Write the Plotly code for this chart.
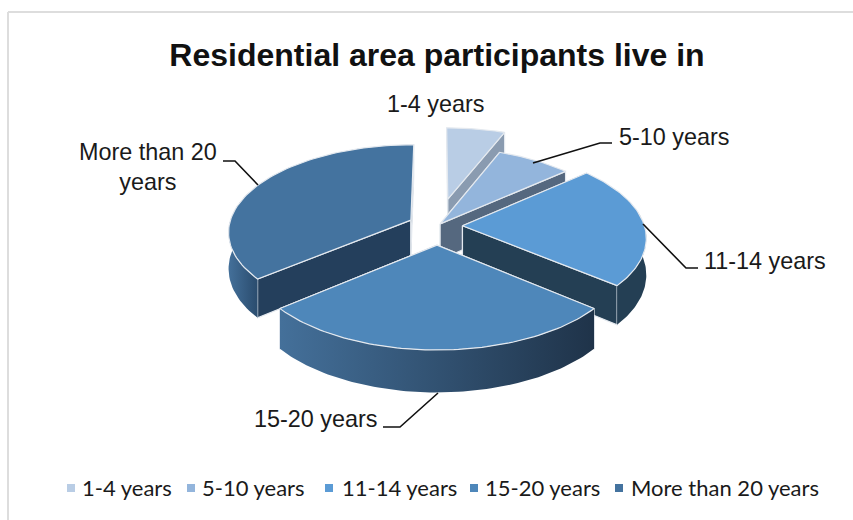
import numpy as np
import plotly.graph_objects as go

categories = ["1-4 years", "5-10 years", "11-14 years", "15-20 years", "More than 20 years"]
values = [6, 7.5, 22.5, 28, 36]
pulls = [0.33, 0.03, 0.14, 0.215, 0.16]
top_colors = ["#B9CDE5", "#93B5DC", "#5B9BD5", "#4E87BA", "#44739F"]
side_colors = ["#8A9BB0", "#55687F", "#243F54", "#243F5C", "#243F5C"]
outer_grad = [("#8A9BB0", "#8A9BB0"), ("#55687F", "#55687F"), ("#243F54", "#243F54"),
              ("#44709A", "#1F3349"), ("#44709A", "#2A4C6E")]
draw_order = [0, 1, 2, 4, 3]
title_text = "Residential area participants live in"

CX, CY, R, SIN_T, DIST, H = 437, 226, 182, 0.475, 7.0, 36
COS_T = np.sqrt(1 - SIN_T ** 2)


def project(X, Y, z=0.0):
    X, Y = np.asarray(X, float), np.asarray(Y, float)
    s = DIST / (DIST + Y * COS_T)
    return CX + R * X * s, CY - R * SIN_T * Y * s + z * H * s


angles = np.cumsum([0] + values) / sum(values) * 2 * np.pi
fig = go.Figure()


def poly(xs, ys, color, line=None, grad=None):
    kw = dict(fillcolor=color) if grad is None else dict(
        fillgradient=dict(type="horizontal", colorscale=[[0, grad[0]], [1, grad[1]]]))
    fig.add_trace(go.Scatter(
        x=np.r_[xs, xs[0]], y=np.r_[ys, ys[0]], mode="lines", fill="toself",
        line=dict(color=line or "rgba(0,0,0,0)", width=1.2), hoverinfo="skip",
        showlegend=False, **kw))


for i in draw_order:
    a0, a1 = angles[i], angles[i + 1]
    mid = (a0 + a1) / 2
    ox, oy = pulls[i] * np.sin(mid), pulls[i] * np.cos(mid)
    t = np.linspace(a0, a1, 80)
    arc_x, arc_y = ox + np.sin(t), oy + np.cos(t)
    for ang in (a0, a1):
        ex = [ox, ox + np.sin(ang)]
        ey = [oy, oy + np.cos(ang)]
        tx, ty = project(ex, ey, 0)
        bx, by = project(ex, ey, 1)
        poly(np.r_[tx, bx[::-1]], np.r_[ty, by[::-1]], side_colors[i], line="#E4E9EF")
    tx, ty = project(arc_x, arc_y, 0)
    bx, by = project(arc_x, arc_y, 1)
    front = arc_y < oy + 0.25
    if front.sum() > 1:
        poly(np.r_[tx[front], bx[front][::-1]], np.r_[ty[front], by[front][::-1]],
             side_colors[i], grad=outer_grad[i])
    fx, fy = project(np.r_[ox, arc_x], np.r_[oy, arc_y], 0)
    poly(fx, fy, top_colors[i], line="#E4E9EF")

# legend row
legend_marker_x = [71, 191, 329, 474, 619]
legend_text_x = [80, 200, 340, 483, 629]
LEGEND_Y = 488
fig.add_trace(go.Scatter(x=legend_marker_x, y=[LEGEND_Y] * 5, mode="markers", showlegend=False,
                         hoverinfo="skip", marker=dict(symbol="square", size=8, color=top_colors)))
for name, x in zip(categories, legend_text_x):
    fig.add_annotation(x=x, y=LEGEND_Y - 1, text=name, showarrow=False, xanchor="left", xref="x", yref="y",
                       font=dict(family="Lato", size=22, color="#1A1A1A"))

FONT = "Liberation Sans"
labels = [("1-4 years", 436, 104), ("5-10 years", 674, 137), ("11-14 years", 765, 261),
          ("15-20 years", 316, 419), ("More than 20<br>years", 148, 167)]
for txt, x, y in labels:
    fig.add_annotation(x=x, y=y, text=txt, showarrow=False, xref="x", yref="y",
                       font=dict(family=FONT, size=23.4, color="#1A1A1A"), align="center")
leaders = ["M533,163 L600,143 L612,143", "M643,224 L686,268 L698,268",
           "M438,393 L400,427 L383,427", "M258,185 L235,161 L223,161"]
shapes = [dict(type="path", path=p, xref="x", yref="y", line=dict(color="#111", width=1.6)) for p in leaders]
shapes += [dict(type="line", x0=8, x1=853, y0=12, y1=12, xref="x", yref="y", line=dict(color="#DDDDDD", width=2)),
           dict(type="line", x0=8, x1=8, y0=12, y1=520, xref="x", yref="y", line=dict(color="#DDDDDD", width=2))]

fig.update_layout(
    width=853, height=520, margin=dict(l=0, r=0, t=0, b=0), showlegend=False,
    paper_bgcolor="white", plot_bgcolor="white", shapes=shapes,
    title=dict(text="<b>" + title_text + "</b>", x=437 / 853, xanchor="center", y=1 - 55 / 520, yanchor="middle",
               font=dict(family=FONT, size=32, color="#111111")),
    xaxis=dict(range=[0, 853], visible=False, fixedrange=True, domain=[0, 1]),
    yaxis=dict(range=[520, 0], visible=False, fixedrange=True, domain=[0, 1]),
)
fig.write_html("out.html", config={"displayModeBar": False},
               post_script="document.body.style.margin='0';document.documentElement.style.overflow='hidden';")
